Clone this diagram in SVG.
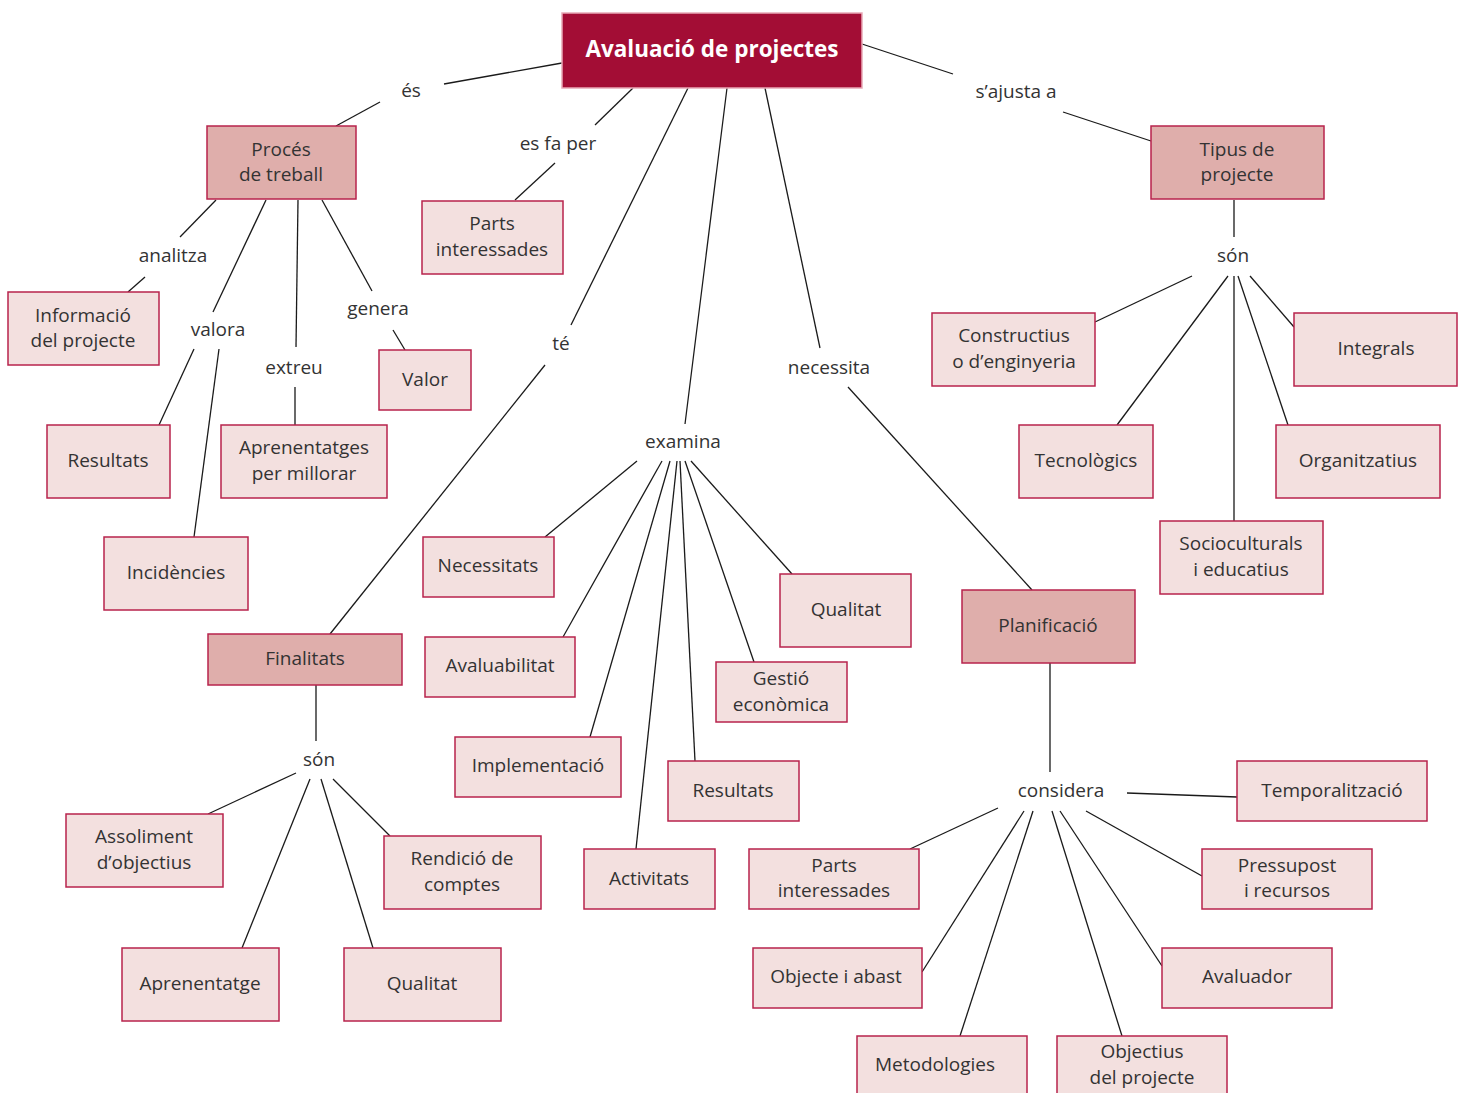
<svg xmlns="http://www.w3.org/2000/svg" width="1466" height="1093" viewBox="0 0 1466 1093">
<style>
.bg{fill:#ffffff}
.n rect{fill:#f3e0df;stroke:#b8234c;stroke-width:1.5}
.d rect{fill:#dfaeab;stroke:#b8234c;stroke-width:1.5}
.m rect{fill:#a30d35;stroke:#e8a9b6;stroke-width:1.5}
text{font-family:"Open Sans","Noto Sans",sans-serif;font-size:19px;fill:#333333;text-anchor:middle;dominant-baseline:central}
.m text{fill:#ffffff;font-weight:bold;font-size:22.5px}
#connectors line{stroke:#1a1a1a;stroke-width:1.3}
</style>
<rect class="bg" x="0" y="0" width="1466" height="1093"/>
<g id="connectors">
<line x1="562" y1="63" x2="444" y2="84"/>
<line x1="380" y1="102" x2="336" y2="126"/>
<line x1="633" y1="88" x2="595" y2="125"/>
<line x1="555" y1="163" x2="515" y2="200"/>
<line x1="688" y1="88" x2="571" y2="325"/>
<line x1="545" y1="365" x2="330" y2="634"/>
<line x1="727" y1="88" x2="685" y2="424"/>
<line x1="765" y1="88" x2="820" y2="348"/>
<line x1="848" y1="387" x2="1032" y2="590"/>
<line x1="862" y1="44" x2="953" y2="74"/>
<line x1="1063" y1="112" x2="1151" y2="141"/>
<line x1="216" y1="200" x2="180" y2="237"/>
<line x1="145" y1="277" x2="128" y2="292"/>
<line x1="266" y1="200" x2="213" y2="312"/>
<line x1="194" y1="349" x2="159" y2="425"/>
<line x1="219" y1="349" x2="194" y2="537"/>
<line x1="298" y1="200" x2="296" y2="347"/>
<line x1="295" y1="387" x2="295" y2="425"/>
<line x1="322" y1="200" x2="372" y2="291"/>
<line x1="393" y1="330" x2="405" y2="350"/>
<line x1="1234" y1="200" x2="1234" y2="237"/>
<line x1="1192" y1="276" x2="1095" y2="322"/>
<line x1="1228" y1="276" x2="1117" y2="425"/>
<line x1="1234" y1="276" x2="1234" y2="521"/>
<line x1="1238" y1="276" x2="1288" y2="425"/>
<line x1="1250" y1="276" x2="1294" y2="327"/>
<line x1="637" y1="461" x2="545" y2="537"/>
<line x1="662" y1="461" x2="563" y2="637"/>
<line x1="670" y1="461" x2="590" y2="737"/>
<line x1="677" y1="461" x2="636" y2="849"/>
<line x1="680" y1="461" x2="695" y2="761"/>
<line x1="685" y1="461" x2="754" y2="662"/>
<line x1="691" y1="461" x2="792" y2="574"/>
<line x1="316" y1="685" x2="316" y2="741"/>
<line x1="296" y1="773" x2="208" y2="814"/>
<line x1="310" y1="779" x2="242" y2="948"/>
<line x1="321" y1="779" x2="373" y2="948"/>
<line x1="333" y1="779" x2="390" y2="836"/>
<line x1="1050" y1="663" x2="1050" y2="772"/>
<line x1="1127" y1="793" x2="1237" y2="797"/>
<line x1="998" y1="808" x2="910" y2="849"/>
<line x1="1024" y1="811" x2="922" y2="972"/>
<line x1="1033" y1="811" x2="960" y2="1036"/>
<line x1="1052" y1="811" x2="1122" y2="1036"/>
<line x1="1060" y1="811" x2="1162" y2="966"/>
<line x1="1086" y1="811" x2="1202" y2="876"/>
</g>
<g id="labels">
<text x="411" y="90">és</text>
<text x="558" y="143">es fa per</text>
<text x="1016" y="91">s’ajusta a</text>
<text x="173" y="255">analitza</text>
<text x="218" y="329">valora</text>
<text x="378" y="308">genera</text>
<text x="294" y="367">extreu</text>
<text x="561" y="343">té</text>
<text x="829" y="367">necessita</text>
<text x="683" y="441">examina</text>
<text x="1233" y="255">són</text>
<text x="319" y="759">són</text>
<text x="1061" y="790">considera</text>
</g>
<g id="n-main" class="m"><rect x="562" y="13" width="300" height="75"/><text x="712" y="48">Avaluació de projectes</text></g>
<g id="n-proces" class="d"><rect x="207" y="126" width="149" height="73"/><text x="281" y="149">Procés</text><text x="281" y="174">de treball</text></g>
<g id="n-parts1" class="n"><rect x="422" y="201" width="141" height="73"/><text x="492" y="223">Parts</text><text x="492" y="249">interessades</text></g>
<g id="n-tipus" class="d"><rect x="1151" y="126" width="173" height="73"/><text x="1237" y="149">Tipus de</text><text x="1237" y="174">projecte</text></g>
<g id="n-info" class="n"><rect x="8" y="292" width="151" height="73"/><text x="83" y="315">Informació</text><text x="83" y="340">del projecte</text></g>
<g id="n-valor" class="n"><rect x="379" y="350" width="92" height="60"/><text x="425" y="379">Valor</text></g>
<g id="n-resultats1" class="n"><rect x="47" y="425" width="123" height="73"/><text x="108" y="460">Resultats</text></g>
<g id="n-aprenentatges" class="n"><rect x="221" y="425" width="166" height="73"/><text x="304" y="447">Aprenentatges</text><text x="304" y="473">per millorar</text></g>
<g id="n-incidencies" class="n"><rect x="104" y="537" width="144" height="73"/><text x="176" y="572">Incidències</text></g>
<g id="n-constructius" class="n"><rect x="932" y="313" width="163" height="73"/><text x="1014" y="335">Constructius</text><text x="1014" y="361">o d’enginyeria</text></g>
<g id="n-integrals" class="n"><rect x="1294" y="313" width="163" height="73"/><text x="1376" y="348">Integrals</text></g>
<g id="n-tecnologics" class="n"><rect x="1019" y="425" width="134" height="73"/><text x="1086" y="460">Tecnològics</text></g>
<g id="n-organitzatius" class="n"><rect x="1276" y="425" width="164" height="73"/><text x="1358" y="460">Organitzatius</text></g>
<g id="n-socioculturals" class="n"><rect x="1160" y="521" width="163" height="73"/><text x="1241" y="543">Socioculturals</text><text x="1241" y="569">i educatius</text></g>
<g id="n-necessitats" class="n"><rect x="423" y="537" width="131" height="60"/><text x="488" y="565">Necessitats</text></g>
<g id="n-qualitat1" class="n"><rect x="780" y="574" width="131" height="73"/><text x="846" y="609">Qualitat</text></g>
<g id="n-planificacio" class="d"><rect x="962" y="590" width="173" height="73"/><text x="1048" y="625">Planificació</text></g>
<g id="n-finalitats" class="d"><rect x="208" y="634" width="194" height="51"/><text x="305" y="658">Finalitats</text></g>
<g id="n-avaluabilitat" class="n"><rect x="425" y="637" width="150" height="60"/><text x="500" y="665">Avaluabilitat</text></g>
<g id="n-gestio" class="n"><rect x="716" y="662" width="131" height="60"/><text x="781" y="678">Gestió</text><text x="781" y="704">econòmica</text></g>
<g id="n-implementacio" class="n"><rect x="455" y="737" width="166" height="60"/><text x="538" y="765">Implementació</text></g>
<g id="n-resultats2" class="n"><rect x="668" y="761" width="131" height="60"/><text x="733" y="790">Resultats</text></g>
<g id="n-temporalitzacio" class="n"><rect x="1237" y="761" width="190" height="60"/><text x="1332" y="790">Temporalització</text></g>
<g id="n-assoliment" class="n"><rect x="66" y="814" width="157" height="73"/><text x="144" y="836">Assoliment</text><text x="144" y="862">d’objectius</text></g>
<g id="n-rendicio" class="n"><rect x="384" y="836" width="157" height="73"/><text x="462" y="858">Rendició de</text><text x="462" y="884">comptes</text></g>
<g id="n-activitats" class="n"><rect x="584" y="849" width="131" height="60"/><text x="649" y="878">Activitats</text></g>
<g id="n-parts2" class="n"><rect x="749" y="849" width="170" height="60"/><text x="834" y="865">Parts</text><text x="834" y="890">interessades</text></g>
<g id="n-pressupost" class="n"><rect x="1202" y="849" width="170" height="60"/><text x="1287" y="865">Pressupost</text><text x="1287" y="890">i recursos</text></g>
<g id="n-aprenentatge" class="n"><rect x="122" y="948" width="157" height="73"/><text x="200" y="983">Aprenentatge</text></g>
<g id="n-qualitat2" class="n"><rect x="344" y="948" width="157" height="73"/><text x="422" y="983">Qualitat</text></g>
<g id="n-objecte" class="n"><rect x="753" y="948" width="169" height="60"/><text x="836" y="976">Objecte i abast</text></g>
<g id="n-avaluador" class="n"><rect x="1162" y="948" width="170" height="60"/><text x="1247" y="976">Avaluador</text></g>
<g id="n-metodologies" class="n"><rect x="857" y="1036" width="170" height="70"/><text x="935" y="1064">Metodologies</text></g>
<g id="n-objectius" class="n"><rect x="1057" y="1036" width="170" height="70"/><text x="1142" y="1051">Objectius</text><text x="1142" y="1077">del projecte</text></g>
</svg>
